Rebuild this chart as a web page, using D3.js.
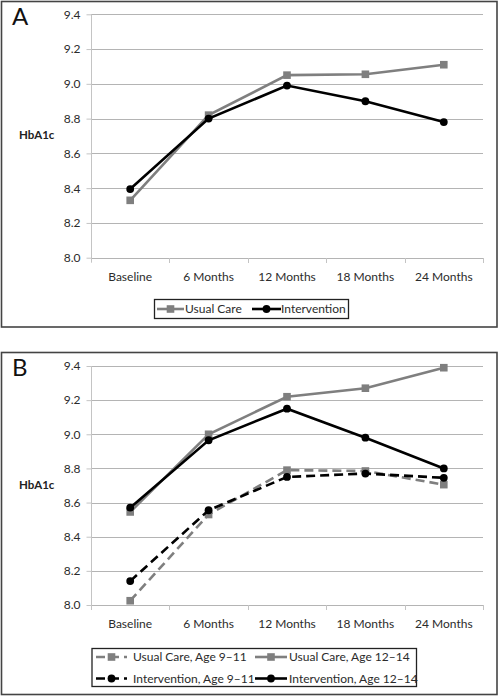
<!DOCTYPE html>
<html>
<head>
<meta charset="utf-8">
<script src="https://cdn.jsdelivr.net/npm/d3@7"></script>
<style>
  html, body { margin: 0; padding: 0; background: #fff; }
  svg { display: block; }
  text { font-family: Lato, "Open Sans", sans-serif; fill: #2b2b2b; }
</style>
</head>
<body>
<svg id="chart" width="498" height="696"></svg>
<script>
// ---------- DATA ----------
const categories = ["Baseline", "6 Months", "12 Months", "18 Months", "24 Months"];
const yTicks = [8.0, 8.2, 8.4, 8.6, 8.8, 9.0, 9.2, 9.4];
const yLabel = "HbA1c";

// Panel A
const usualCareA = [8.33, 8.82, 9.05, 9.055, 9.11];
const interventionA = [8.395, 8.80, 8.99, 8.90, 8.78];

// Panel B
const usualCare911 = [8.025, 8.53, 8.79, 8.785, 8.705];
const usualCare1214 = [8.545, 9.00, 9.22, 9.27, 9.39];
const intervention911 = [8.14, 8.555, 8.75, 8.77, 8.745];
const intervention1214 = [8.57, 8.965, 9.15, 8.98, 8.80];

// ---------- DRAWING ----------
const svg = d3.select("#chart");
const GRAY = "#7f7f7f";
const BLACK = "#000";

const x = d3.scaleBand().domain(categories).range([91, 483]).padding(0);

function marker(g, shape, color, cx, cy) {
  if (shape === "square") {
    g.append("rect").attr("x", cx - 3.8).attr("y", cy - 3.8)
      .attr("width", 7.6).attr("height", 7.6).attr("fill", color);
  } else {
    g.append("circle").attr("cx", cx).attr("cy", cy).attr("r", 3.9).attr("fill", color);
  }
}

function drawPanel(p) {
  // frame
  svg.append("rect").attr("x", p.box[0]).attr("y", p.box[1])
    .attr("width", p.box[2]).attr("height", p.box[3])
    .attr("fill", "none").attr("stroke", "#444").attr("stroke-width", 1.6);

  svg.append("text").attr("x", 12).attr("y", p.box[1] + 23)
    .style("font-size", "24px").style("fill", "#111").text(p.label);

  const y = d3.scaleLinear().domain([8.0, 9.4]).range([p.y0, p.y1]);
  const g = svg.append("g");

  // gridlines
  g.selectAll(".grid").data(yTicks).join("line")
    .attr("x1", 91).attr("x2", 483)
    .attr("y1", d => Math.round(y(d)) + 0.5).attr("y2", d => Math.round(y(d)) + 0.5)
    .attr("stroke", "#b4b4b4").attr("stroke-width", 1);

  // y axis
  const yAxis = d3.axisLeft(y).tickValues(yTicks).tickFormat(d3.format(".1f"))
    .tickSize(5).tickPadding(6);
  const ya = g.append("g").attr("transform", "translate(91.5,0)").call(yAxis);
  ya.select(".domain").attr("stroke", "#c4c4c4").attr("d", `M0,${p.y1}V${p.y0 + 5}`);
  ya.selectAll(".tick line").attr("stroke", "#c4c4c4");
  ya.selectAll(".tick text").style("font-size", "12px").style("font-family", "Lato, sans-serif")
    .attr("fill", "#2b2b2b");

  // x axis
  const xAxis = d3.axisBottom(x).tickSize(0).tickPadding(14);
  const xa = g.append("g").attr("transform", `translate(0,${Math.round(p.y0) + 0.5})`).call(xAxis);
  xa.select(".domain").remove();
  xa.selectAll(".tick text").style("font-size", "12px").style("font-family", "Lato, sans-serif")
    .attr("fill", "#2b2b2b");
  // category boundary ticks
  const bounds = categories.map(c => x(c)).concat([x.range()[1]]);
  g.selectAll(".xt").data(bounds.slice(1)).join("line")
    .attr("x1", d => Math.round(d) + 0.5).attr("x2", d => Math.round(d) + 0.5)
    .attr("y1", Math.round(p.y0)).attr("y2", Math.round(p.y0) + 5)
    .attr("stroke", "#c4c4c4");

  // y label
  svg.append("text").attr("x", 19).attr("y", (p.y1 + p.y0) / 2 + 5 - 2)
    .style("font-size", "11.5px").style("font-weight", "bold").style("fill", "#222")
    .text(yLabel);

  // series
  const line = d3.line().x((d, i) => x(categories[i]) + x.bandwidth() / 2).y(d => y(d));
  p.series.forEach(s => {
    g.append("path").datum(s.values).attr("d", line)
      .attr("fill", "none").attr("stroke", s.color).attr("stroke-width", 2.6)
      .attr("stroke-dasharray", s.dash ? "9,5" : null);
    s.values.forEach((v, i) => marker(g, s.shape, s.color, x(categories[i]) + x.bandwidth() / 2, y(v)));
  });

  // legend
  const L = p.legend;
  svg.append("rect").attr("x", L.box[0]).attr("y", L.box[1]).attr("width", L.box[2]).attr("height", L.box[3])
    .attr("fill", "#fff").attr("stroke", "#222").attr("stroke-width", 1.3);
  L.items.forEach(it => {
    const s = p.series[it.s];
    svg.append("line").attr("x1", it.lx).attr("x2", it.lx + it.len).attr("y1", it.y).attr("y2", it.y)
      .attr("stroke", s.color).attr("stroke-width", 2.6)
      .attr("stroke-dasharray", s.dash ? "9,5" : null);
    marker(svg, s.shape, s.color, it.lx + it.len / 2, it.y);
    svg.append("text").attr("x", it.tx).attr("y", it.y + 4.3)
      .style("font-size", "12px").text(s.name);
  });
}

drawPanel({
  box: [1.5, 1.5, 495.5, 325.5], label: "A", y0: 257.7, y1: 14.3,
  series: [
    { name: "Usual Care", values: usualCareA, color: GRAY, shape: "square", dash: false },
    { name: "Intervention", values: interventionA, color: BLACK, shape: "circle", dash: false }
  ],
  legend: {
    box: [154.5, 299.5, 194, 19],
    items: [
      { s: 0, lx: 157, len: 27, tx: 185, y: 309 },
      { s: 1, lx: 252, len: 29, tx: 281, y: 309 }
    ]
  }
});

drawPanel({
  box: [1.5, 352.5, 495.5, 342], label: "B", y0: 605, y1: 366,
  series: [
    { name: "Usual Care, Age 9–11", values: usualCare911, color: GRAY, shape: "square", dash: true },
    { name: "Usual Care, Age 12–14", values: usualCare1214, color: GRAY, shape: "square", dash: false },
    { name: "Intervention, Age 9–11", values: intervention911, color: BLACK, shape: "circle", dash: true },
    { name: "Intervention, Age 12–14", values: intervention1214, color: BLACK, shape: "circle", dash: false }
  ],
  legend: {
    box: [92, 648.5, 324.5, 38],
    items: [
      { s: 0, lx: 96, len: 31, tx: 133, y: 657 },
      { s: 1, lx: 255, len: 32, tx: 289, y: 657 },
      { s: 2, lx: 96, len: 31, tx: 133, y: 678.5 },
      { s: 3, lx: 255, len: 32, tx: 289, y: 678.5 }
    ]
  }
});
</script>
</body>
</html>
